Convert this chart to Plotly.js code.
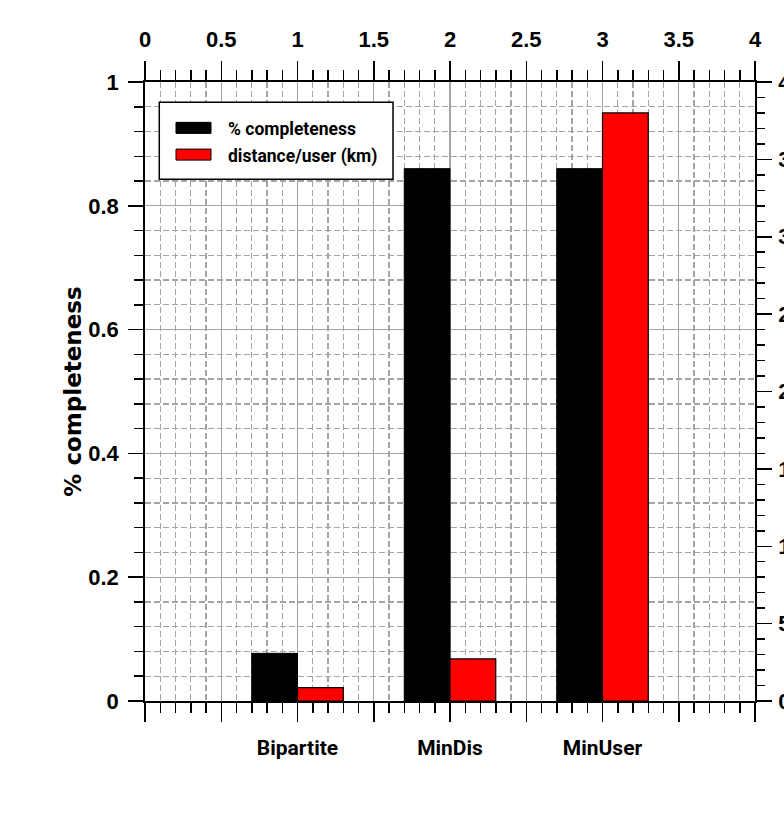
<!DOCTYPE html>
<html>
<head>
<meta charset="utf-8">
<script src="https://cdn.plot.ly/plotly-3.0.1.min.js"></script>
<style>
  html, body { margin: 0; padding: 0; background: #fff; }
  #chart { width: 784px; height: 831px; }
</style>
</head>
<body>
<div id="chart"></div>
<script>
// ---- data ----
const categories = ["Bipartite", "MinDis", "MinUser"];
const categoryPositions = [1, 2, 3];
const completeness = [0.077, 0.86, 0.86];          // left axis, fraction
const distancePerUser = [0.87, 2.72, 38.0];         // right axis, km
const seriesNames = ["% completeness", "distance/user (km)"];
const seriesColors = ["#000000", "#ff0000"];
const bottomTickVals = [0, 0.5, 1, 1.5, 2, 2.5, 3, 3.5, 4];
const yTitle = "% completeness";

// ---- build ----
const bottomTickText = bottomTickVals.map(v => {
  const i = categoryPositions.indexOf(v);
  return i >= 0 ? categories[i] : "";
});

const numFont = { family: "Liberation Sans, Arial, sans-serif", size: 22, color: "#000", weight: "bold" };
const catFont = { family: "Roboto, Liberation Sans, Arial, sans-serif", size: 21, color: "#000", weight: "bold" };
const gridMajor = "#a4a4a4";

const traces = [
  {
    type: "bar",
    name: seriesNames[0],
    x: categoryPositions,
    y: completeness,
    xaxis: "x", yaxis: "y",
    width: 0.3, offset: -0.3,
    marker: { color: seriesColors[0], line: { color: "#000", width: 1 } },
    showlegend: false, hoverinfo: "skip"
  },
  {
    type: "bar",
    name: seriesNames[1],
    x: categoryPositions,
    y: distancePerUser,
    xaxis: "x2", yaxis: "y2",
    width: 0.3, offset: 0,
    marker: { color: seriesColors[1], line: { color: "#000", width: 1.2 } },
    showlegend: false, hoverinfo: "skip"
  }
];

// legend drawn as layout shapes/annotations (wide swatches as in the reference)
const lg = { x0: 0.0234, x1: 0.4066, y0: 0.843, y1: 0.9672 };
const swatches = [
  { x0: 0.0508, x1: 0.1082, y0: 0.917, y1: 0.9348, ty: 0.9236 },
  { x0: 0.0508, x1: 0.1082, y0: 0.8738, y1: 0.8916, ty: 0.8803 }
];
const shapes = [
  { type: "rect", xref: "paper", yref: "paper", x0: lg.x0, x1: lg.x1, y0: lg.y0, y1: lg.y1,
    fillcolor: "#ffffff", line: { color: "#000", width: 1.5 }, layer: "above" }
];
const annotations = [];
swatches.forEach((s, i) => {
  shapes.push({ type: "rect", xref: "paper", yref: "paper", x0: s.x0, x1: s.x1, y0: s.y0, y1: s.y1,
    fillcolor: seriesColors[i], line: { color: "#000", width: 1 }, layer: "above" });
  annotations.push({ xref: "paper", yref: "paper", x: 0.1328, y: s.ty, xanchor: "left", yanchor: "middle",
    text: seriesNames[i], showarrow: false,
    font: { family: "Roboto, Arial, sans-serif", size: 17.5, color: "#000", weight: "bold" } });
});

const layout = {
  width: 784, height: 831,
  margin: { l: 145, r: 29, t: 82, b: 130, pad: 0 },
  paper_bgcolor: "#fff", plot_bgcolor: "#fff",
  showlegend: false,
  xaxis: {
    range: [0, 4], tickmode: "array", tickvals: bottomTickVals, ticktext: bottomTickText,
    ticks: "outside", ticklen: 19, tickwidth: 1.5, tickcolor: "#000",
    tickfont: catFont, ticklabelstandoff: 8,
    showline: true, linecolor: "#000", linewidth: 1.8,
    showgrid: true, gridcolor: gridMajor, gridwidth: 1.3, zeroline: false,
    minor: { tickmode: "linear", tick0: 0, dtick: 0.1, ticks: "outside", ticklen: 10, tickwidth: 1.5, tickcolor: "#000",
             showgrid: true, gridcolor: gridMajor, gridwidth: 1.3, griddash: "6px,3px" }
  },
  xaxis2: {
    range: [0, 4], overlaying: "x", side: "top", anchor: "y",
    tickmode: "linear", tick0: 0, dtick: 0.5,
    ticks: "outside", ticklen: 19, tickwidth: 1.5, tickcolor: "#000",
    tickfont: numFont, ticklabelstandoff: 5,
    showline: true, linecolor: "#000", linewidth: 1.8,
    showgrid: false, zeroline: false,
    minor: { tickmode: "linear", tick0: 0, dtick: 0.1, ticks: "outside", ticklen: 10, tickwidth: 1.5, tickcolor: "#000", showgrid: false }
  },
  yaxis: {
    range: [0, 1], tickmode: "linear", tick0: 0, dtick: 0.2,
    ticks: "outside", ticklen: 15, tickwidth: 1.5, tickcolor: "#000",
    tickfont: numFont, ticklabelstandoff: 5,
    showline: true, linecolor: "#000", linewidth: 1.8,
    showgrid: true, gridcolor: gridMajor, gridwidth: 1.3, zeroline: false,
    title: { text: yTitle, standoff: 0, font: { family: "DejaVu Sans, sans-serif", size: 23, color: "#000", weight: "bold" } },
    minor: { tickmode: "linear", tick0: 0, dtick: 0.04, ticks: "outside", ticklen: 9, tickwidth: 1.5, tickcolor: "#000",
             showgrid: true, gridcolor: gridMajor, gridwidth: 1.3, griddash: "6px,3px" }
  },
  yaxis2: {
    range: [0, 40], overlaying: "y", side: "right", anchor: "x",
    tickmode: "linear", tick0: 0, dtick: 5,
    ticks: "outside", ticklen: 15, tickwidth: 1.5, tickcolor: "#000",
    tickfont: numFont, ticklabelstandoff: 2,
    showline: true, linecolor: "#000", linewidth: 1.8,
    showgrid: false, zeroline: false,
    minor: { tickmode: "linear", tick0: 0, dtick: 1, ticks: "outside", ticklen: 8, tickwidth: 1.5, tickcolor: "#000", showgrid: false }
  },
  shapes: shapes,
  annotations: annotations
};

Plotly.newPlot("chart", traces, layout, { staticPlot: true, displayModeBar: false });
</script>
</body>
</html>
